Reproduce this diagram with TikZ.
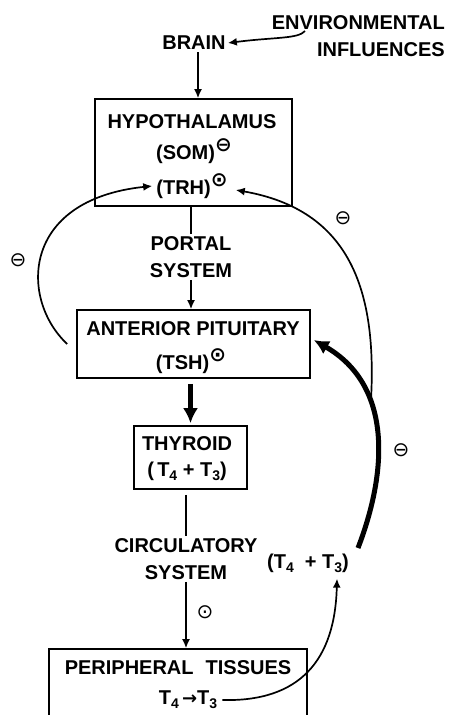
\documentclass[tikz,border=0pt]{standalone}
\usepackage{fontspec}
\setmainfont{Liberation Sans}
\newfontfamily\symf{DejaVu Sans}
\usetikzlibrary{arrows.meta}
\newcommand\lblfont{\fontsize{20}{27}\selectfont\bfseries}
\newcommand\sbs[1]{\raisebox{-0.4ex}{\fontsize{14}{14}\selectfont #1}}
\newcommand\circm{{\symf\fontsize{20}{20}\selectfont ⊖}}
\newcommand\circd{{\symf\fontsize{20}{20}\selectfont ⊙}}
\newcommand\hiup[1]{\raisebox{0.8ex}{#1}}
\begin{document}
\begin{tikzpicture}[x=1pt,y=-1pt,
  box/.style={draw, line width=1.6pt, inner sep=0pt},
  txt/.style={font=\lblfont, inner sep=2pt, align=center},
  sym/.style={inner sep=0pt},
  conn/.style={line width=1.7pt},
  arr/.style={conn, -{Latex[length=9pt,width=8pt]}},
  bigarr/.style={line width=5pt, -{Latex[length=15pt,width=15pt]}}]
\useasboundingbox (0,0) rectangle (453,715);
% boxes
\node[box, minimum width=197pt, minimum height=107pt] (hypo) at (193.5,152.5) {};
\node[box, minimum width=233pt, minimum height=68pt] (ap) at (193.5,344) {};
\node[box, minimum width=113pt, minimum height=63pt] (thy) at (190.5,457.5) {};
\node[box, minimum width=258pt, minimum height=91pt] (per) at (178,694.5) {};
% texts
\node[txt, align=right, anchor=east] (env) at (447,36) {ENVIRONMENTAL\\INFLUENCES};
\node[txt] (brain) at (194,43) {BRAIN};
\node[txt] (hyt) at (192,122) {HYPOTHALAMUS};
\node[txt] (som) at (194,151) {(SOM)\hiup{\circm}};
\node[txt] (trh) at (192,186) {(TRH)\hiup{\circd}};
\node[txt] (portal) at (191,257) {PORTAL\\SYSTEM};
\node[txt] (apt) at (193,329) {ANTERIOR PITUITARY};
\node[txt] (tsh) at (191,361) {(TSH)\hiup{\circd}};
\node[txt] (thyt) at (187,444) {THYROID};
\node[txt] (thyh) at (187,471) {(\,T\sbs{4} + T\sbs{3})};
\node[txt] (circ) at (186,559) {CIRCULATORY\\SYSTEM};
\node[txt] (tr) at (308,563) {(T\sbs{4}\ \ + T\sbs{3})};
\node[txt] (pert) at (178,668) {PERIPHERAL\hspace{12pt}TISSUES};
\node[txt] (t43) at (188,700) {T\sbs{4}\,{\symf\fontsize{18}{18}\selectfont →}T\sbs{3}};
% sign symbols
\node[sym] (mleft) at (18,260) {\circm};
\node[sym] (mright) at (343,218) {\circm};
\node[sym] (mthick) at (401,450) {\circm};
\node[sym] (pcirc) at (205,612) {\circd};
% coordinates for free ends
\coordinate (envS) at (305,31);
\coordinate (thS) at (358,548);
\coordinate (mrg) at (371,400);
% connectors
\draw[arr] (envS) .. controls (298,39) and (275,37) .. (brain.east);
\draw[arr] ([xshift=4pt]brain.south) -- ([xshift=4pt]brain.south |- hypo.north);
\draw[conn] (hypo.south -| portal.north) -- (portal.north);
\draw[arr] (portal.south) -- (portal.south |- ap.north);
\draw[bigarr] ([yshift=-5pt]ap.south -| thy.north) -- ([yshift=2pt]thy.north);
\draw[conn] ([yshift=-5pt]thy.south -| circ.north) -- (circ.north);
\draw[arr] (circ.south) -- (circ.south |- per.north);
\draw[arr] ([xshift=3pt]t43.east) .. controls (300,702) and (335,660) .. ([xshift=29pt,yshift=-4pt]tr.south);
\draw[bigarr] (thS) .. controls (388,470) and (392,385) .. ([xshift=3pt,yshift=4pt]ap.east);
\draw[arr] (mrg) .. controls (377,290) and (350,210) .. ([xshift=6pt,yshift=-4pt]trh.east);
\draw[arr] ([xshift=-9pt]ap.west) .. controls (20,300) and (20,200) .. ([xshift=-2pt]trh.west);
\end{tikzpicture}
\end{document}
